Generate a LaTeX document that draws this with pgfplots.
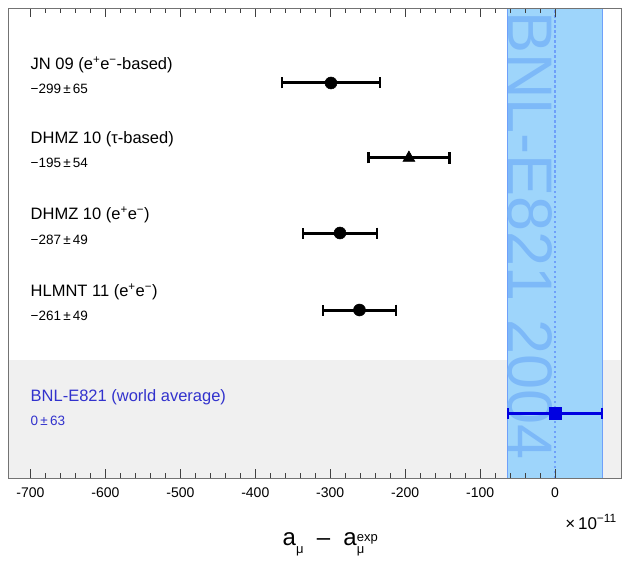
\documentclass[border=0pt]{standalone}
\usepackage{pgfplots}
\pgfplotsset{compat=1.18}
\usepackage{fontspec}
\setmainfont{Liberation Sans}
\definecolor{bandfill}{RGB}{158,213,251}
\definecolor{bandedge}{RGB}{110,160,250}
\definecolor{bandtext}{RGB}{125,185,248}
\definecolor{greyreg}{RGB}{240,240,240}
\definecolor{labblue}{RGB}{50,50,205}
\definecolor{mkblue}{RGB}{0,0,225}
\pgfplotsset{ebar/.style={mark options={line width=0.5pt, solid},
  error bars/x dir=both, error bars/x explicit,
  error bars/error bar style={line width=3pt},
  error bars/error mark=|,
  error bars/error mark options={line width=2.4pt, mark size=5.5pt}}}
\begin{document}
\begin{tikzpicture}
\begin{axis}[
  scale only axis, width=613pt, height=470pt,
  xmin=-730, xmax=88, ymin=0, ymax=470,
  axis on top,
  axis line style={draw=black!55, line width=0.8pt},
  ytick=\empty,
  xtick={-700,-600,...,0},
  xticklabels={-700,-600,-500,-400,-300,-200,-100,0},
  minor x tick num=4,
  tick align=inside,
  xtick pos=both,
  major tick length=9pt, minor tick length=5pt,
  tick style={black!75, line width=0.6pt},
  xticklabel style={font=\fontsize{14}{16}\selectfont, yshift=-6pt},
  clip=false,
]
% background regions
\fill[greyreg] (axis cs:-730,0) rectangle (axis cs:88,118);
\fill[bandfill] (axis cs:-63,0) rectangle (axis cs:63,470);
\addplot[bandedge, line width=1.2pt] coordinates {(-63,0) (-63,470)};
\addplot[bandedge, line width=1.2pt] coordinates {(63,0) (63,470)};
\node[rotate=-90, anchor=base west, inner sep=0pt, text=bandtext,
      font=\fontsize{63}{70}\selectfont] at (axis cs:-62,467) {BNL-E821 2004};
\addplot[bandedge, line width=1.3pt, dash pattern=on 2.5pt off 2.5pt] coordinates {(0,0) (0,470)};

% data points
\addplot[black, mark=*, mark size=6pt, ebar] coordinates {(-299,395) +- (65,0)};
\addplot[black, mark=triangle*, mark size=7pt, ebar] coordinates {(-195,320) +- (54,0)};
\addplot[black, mark=*, mark size=6pt, ebar] coordinates {(-287,245) +- (49,0)};
\addplot[black, mark=*, mark size=6pt, ebar] coordinates {(-261,168) +- (49,0)};
\addplot[mkblue, mark=square*, mark size=6pt, ebar] coordinates {(0,65) +- (63,0)};

% labels
\def\lf{\fontsize{16.5}{19}\selectfont}
\def\vf{\fontsize{13.5}{16}\selectfont}
\node[anchor=west, inner sep=0pt, font=\lf] at (axis cs:-700,413) {JN 09 (e\textsuperscript{+}e\textsuperscript{−}-based)};
\node[anchor=west, inner sep=0pt, font=\vf] at (axis cs:-700,389) {−299\,±\,65};
\node[anchor=west, inner sep=0pt, font=\lf] at (axis cs:-700,339) {DHMZ 10 (τ-based)};
\node[anchor=west, inner sep=0pt, font=\vf] at (axis cs:-700,315) {−195\,±\,54};
\node[anchor=west, inner sep=0pt, font=\lf] at (axis cs:-700,263) {DHMZ 10 (e\textsuperscript{+}e\textsuperscript{−})};
\node[anchor=west, inner sep=0pt, font=\vf] at (axis cs:-700,238) {−287\,±\,49};
\node[anchor=west, inner sep=0pt, font=\lf] at (axis cs:-700,186) {HLMNT 11 (e\textsuperscript{+}e\textsuperscript{−})};
\node[anchor=west, inner sep=0pt, font=\vf] at (axis cs:-700,162) {−261\,±\,49};
\node[anchor=west, inner sep=0pt, font=\lf, text=labblue] at (axis cs:-700,81) {BNL-E821 (world average)};
\node[anchor=west, inner sep=0pt, font=\vf, text=labblue] at (axis cs:-700,57) {0\,±\,63};

% axis label and multiplier
\node[inner sep=0pt, font=\fontsize{17}{19}\selectfont] at (axis cs:48,-44) {×\,10\textsuperscript{−11}};
\node[inner sep=0pt, font=\fontsize{24}{28}\selectfont] at (axis cs:-300,-67)
  {a\raisebox{-0.6ex}{\fontsize{13}{13}\selectfont μ}\ \ –\ \ a\raisebox{-0.62ex}{\fontsize{13}{13}\selectfont\begin{tabular}[b]{@{}l@{}}exp\\[-1pt]μ\end{tabular}}};
\end{axis}
\path ([shift={(-8pt,-90pt)}]current axis.south west) rectangle ([shift={(10pt,8pt)}]current axis.north east);
\end{tikzpicture}
\end{document}
